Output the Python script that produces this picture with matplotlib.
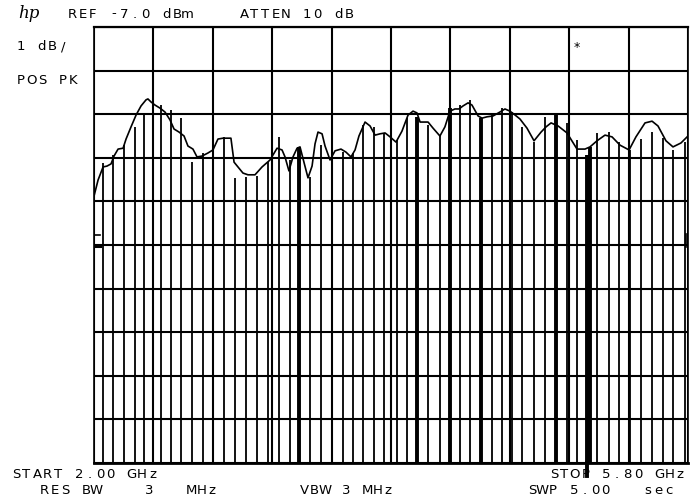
import numpy as np
import matplotlib
matplotlib.use("Agg")
import matplotlib.pyplot as plt

# Sweep settings
start_ghz = 2.00
stop_ghz = 5.80
ref_dbm = -7.0
db_per_div = 1.0

# Envelope trace (GHz, dBm)
trace_ghz = [2.000, 2.026, 2.058, 2.083, 2.109, 2.128, 2.154, 2.186, 2.205, 2.237,
             2.269, 2.301, 2.333, 2.345, 2.365, 2.390, 2.422, 2.454, 2.486, 2.512,
             2.544, 2.576, 2.601, 2.633, 2.659, 2.691, 2.729, 2.761, 2.793, 2.825,
             2.876, 2.896, 2.921, 2.953, 2.985, 3.030, 3.075, 3.126, 3.171, 3.203,
             3.222, 3.247, 3.273, 3.299, 3.318, 3.343, 3.369, 3.395, 3.414, 3.433,
             3.459, 3.478, 3.510, 3.542, 3.580, 3.612, 3.644, 3.670, 3.695, 3.734,
             3.766, 3.798, 3.830, 3.862, 3.894, 3.932, 3.970, 4.009, 4.041, 4.066,
             4.086, 4.137, 4.169, 4.213, 4.245, 4.277, 4.309, 4.335, 4.361, 4.393,
             4.418, 4.457, 4.482, 4.514, 4.553, 4.597, 4.629, 4.661, 4.687, 4.725,
             4.770, 4.815, 4.860, 4.892, 4.924, 4.969, 5.026, 5.090, 5.141, 5.173,
             5.218, 5.269, 5.314, 5.365, 5.423, 5.467, 5.525, 5.570, 5.608, 5.659,
             5.704, 5.755, 5.800]
trace_dbm = [-10.88, -10.51, -10.21, -10.19, -10.14, -9.96, -9.80, -9.78, -9.57, -9.29,
             -9.02, -8.81, -8.67, -8.65, -8.72, -8.79, -8.86, -8.95, -9.13, -9.34,
             -9.41, -9.50, -9.73, -9.80, -9.98, -9.96, -9.89, -9.82, -9.57, -9.55,
             -9.55, -10.10, -10.21, -10.35, -10.39, -10.39, -10.21, -10.05, -9.78, -9.82,
             -9.98, -10.30, -9.98, -9.78, -9.75, -10.10, -10.46, -10.19, -9.68, -9.41,
             -9.45, -9.73, -10.05, -9.84, -9.80, -9.87, -9.98, -9.82, -9.50, -9.18,
             -9.27, -9.48, -9.45, -9.43, -9.52, -9.64, -9.39, -9.02, -8.93, -8.97,
             -9.18, -9.18, -9.32, -9.50, -9.29, -8.93, -8.88, -8.88, -8.81, -8.74,
             -8.79, -9.04, -9.09, -9.06, -9.04, -8.95, -8.88, -8.93, -9.00, -9.11,
             -9.32, -9.61, -9.41, -9.29, -9.20, -9.27, -9.43, -9.80, -9.80, -9.75,
             -9.61, -9.48, -9.52, -9.71, -9.82, -9.52, -9.20, -9.16, -9.27, -9.61,
             -9.75, -9.66, -9.50]

# Individual carrier peaks (GHz, dBm)
peak_ghz = [2.056, 2.120, 2.192, 2.262, 2.320, 2.380, 2.429, 2.491, 2.555, 2.627,
            2.697, 2.761, 2.832, 2.902, 2.970, 3.041, 3.113, 3.184, 3.254, 3.312,
            3.382, 3.450, 3.523, 3.593, 3.657, 3.721, 3.791, 3.855, 3.936, 4.000,
            4.066, 4.137, 4.213, 4.277, 4.341, 4.405, 4.476, 4.544, 4.608, 4.672,
            4.741, 4.812, 4.885, 4.956, 5.024, 5.088, 5.151, 5.170, 5.220, 5.295,
            5.361, 5.429, 5.499, 5.571, 5.642, 5.705, 5.784]
peak_dbm = [-10.12, -9.94, -9.71, -9.29, -8.97, -8.74, -8.79, -8.90, -9.09, -10.10,
            -9.89, -9.82, -9.52, -10.46, -10.44, -10.42, -10.10, -9.52, -10.05, -9.75,
            -10.44, -9.71, -10.00, -9.87, -9.89, -9.25, -9.29, -9.43, -9.59, -9.09,
            -9.06, -9.25, -9.48, -8.86, -8.79, -8.67, -9.09, -9.02, -8.86, -8.95,
            -9.29, -9.64, -9.06, -8.97, -9.20, -9.59, -9.94, -9.75, -9.43, -9.41,
            -9.64, -9.82, -9.58, -9.41, -9.55, -9.82, -9.64]
heavy_peaks = [3.312, 4.066, 4.277, 4.476, 4.956, 5.151, 5.170]

marker_ghz = 5.151
star_ghz, star_dbm = 5.088, -7.48

W, H = 692, 498
fig = plt.figure(figsize=(W / 100, H / 100), dpi=100)
fig.patch.set_facecolor("white")
ax = fig.add_axes([94 / W, 35 / H, 594 / W, 436 / H])

bottom_dbm = ref_dbm - 10 * db_per_div
ax.set_xlim(start_ghz, stop_ghz)
ax.set_ylim(bottom_dbm, ref_dbm)
ax.set_xticks(np.linspace(start_ghz, stop_ghz, 11))
ax.set_yticks(np.arange(bottom_dbm, ref_dbm + 0.5, db_per_div))
ax.tick_params(length=0, labelbottom=False, labelleft=False)
ax.grid(True, color="black", linewidth=1.5)
ax.set_axisbelow(True)
for side, sp in ax.spines.items():
    sp.set_color("black")
    sp.set_linewidth(1.2)
ax.spines["bottom"].set_linewidth(2.0)
ax.spines["top"].set_linewidth(1.6)

# carrier lines
widths = [2.8 if f in heavy_peaks else 1.3 for f in peak_ghz]
ax.vlines(peak_ghz, bottom_dbm, peak_dbm, colors="black", linewidths=widths)

# marker line runs down past the graticule
ax.plot([marker_ghz, marker_ghz], [bottom_dbm - 0.3, bottom_dbm], color="black",
        linewidth=2.8, clip_on=False)

# envelope
ax.plot(trace_ghz, trace_dbm, color="black", linewidth=1.2)

ax.text(star_ghz, star_dbm, "*", ha="center", va="center", fontsize=9)

# display line ticks on the left edge
ax.plot([start_ghz, start_ghz + 0.04], [-11.77, -11.77], color="black", linewidth=1.2)
ax.plot([start_ghz, start_ghz + 0.04], [-12.03, -12.03], color="black", linewidth=2.2)
ax.plot([stop_ghz - 0.015, stop_ghz - 0.015], [-11.75, -12.05], color="black", linewidth=1.2)


def plotter_text(x, y, s, pitch=10.5, size=9.5):
    # fixed-pitch lettering like the plotter output
    for i, ch in enumerate(s):
        if ch != " ":
            fig.text((x + i * pitch + 4) / W, 1 - y / H, ch, fontsize=size,
                     ha="center", va="center", family="DejaVu Sans")


fig.text(18 / W, 1 - 14 / H, "hp", fontsize=12, style="italic",
         family="DejaVu Serif", ha="left", va="center")
plotter_text(68, 14, "REF -7.0 dBm")
plotter_text(240, 14, "ATTEN 10 dB")
plotter_text(17, 47, "1 dB/")
plotter_text(17, 80, "POS PK")
plotter_text(12, 474, "START 2.00 GHz")
plotter_text(550, 474, "STOP 5.80 GHz")
plotter_text(40, 490, "RES BW    3   MHz")
plotter_text(300, 490, "VBW 3 MHz")
plotter_text(528, 490, "SWP 5.00   sec")

fig.savefig("out.png", dpi=100, facecolor="white")
